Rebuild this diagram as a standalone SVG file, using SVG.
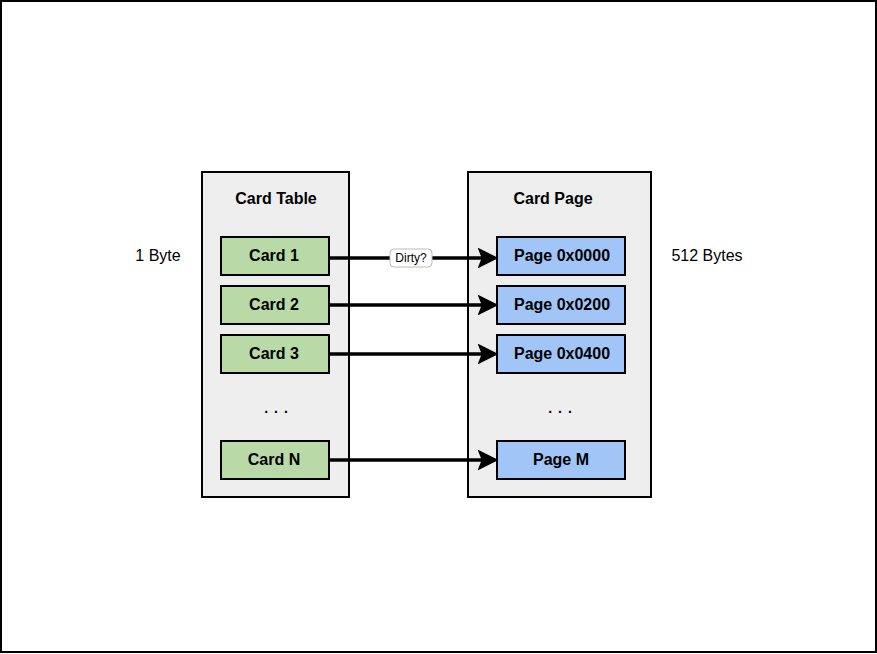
<svg xmlns="http://www.w3.org/2000/svg" width="877" height="654" viewBox="0 0 877 654">
<style>
.frame{fill:#ffffff;stroke:#000;stroke-width:2}
.cont{fill:#eeeeee;stroke:#000;stroke-width:2}
.card{fill:#b9d9a7;stroke:#000;stroke-width:2}
.page{fill:#a2c5f8;stroke:#000;stroke-width:2}
.t{font-family:"Liberation Sans",Arial,sans-serif;font-size:16px;fill:#000;text-anchor:middle;dominant-baseline:central}
.b{font-weight:bold}
.d{font-size:14px;font-weight:bold;letter-spacing:6px}
.conn{stroke:#000;stroke-width:3.5;fill:none;marker-end:url(#ah)}
.lbl{fill:#fff;stroke:#bbb;stroke-width:1}
.s{font-size:12px}
</style>
<defs>
<marker id="ah" markerWidth="6" markerHeight="6" refX="5" refY="3" orient="auto" markerUnits="strokeWidth">
<path d="M0,0 L6,3 L0,6 L1.2,3 Z" fill="#000"/>
</marker>
</defs>
<rect class="frame" x="1" y="1" width="875" height="651"/>
<g id="cardTable">
<rect class="cont" x="202" y="172" width="147" height="325"/>
<text class="t b" x="276" y="198">Card Table</text>
<text class="t d" x="279" y="408">...</text>
</g>
<g id="cardPage">
<rect class="cont" x="468" y="172" width="183" height="325"/>
<text class="t b" x="553" y="198">Card Page</text>
<text class="t d" x="563" y="408">...</text>
</g>
<g id="card1"><rect class="card" x="221" y="237" width="108" height="38"/><text class="t b" x="274" y="255">Card 1</text></g>
<g id="card2"><rect class="card" x="221" y="286" width="108" height="38"/><text class="t b" x="274" y="304">Card 2</text></g>
<g id="card3"><rect class="card" x="221" y="335" width="108" height="38"/><text class="t b" x="274" y="353">Card 3</text></g>
<g id="cardN"><rect class="card" x="221" y="441" width="108" height="38"/><text class="t b" x="274" y="459">Card N</text></g>
<g id="page0"><rect class="page" x="497" y="237" width="128" height="38"/><text class="t b" x="562" y="255">Page 0x0000</text></g>
<g id="page1"><rect class="page" x="497" y="286" width="128" height="38"/><text class="t b" x="562" y="304">Page 0x0200</text></g>
<g id="page2"><rect class="page" x="497" y="335" width="128" height="38"/><text class="t b" x="562" y="353">Page 0x0400</text></g>
<g id="pageM"><rect class="page" x="497" y="441" width="128" height="38"/><text class="t b" x="561" y="459">Page M</text></g>
<g id="oneByte"><text class="t" x="158" y="255">1 Byte</text></g>
<g id="bytes512"><text class="t" x="707" y="255">512 Bytes</text></g>
<g id="connectors">
<line class="conn" x1="329" y1="258" x2="495" y2="258"/>
<line class="conn" x1="329" y1="305" x2="495" y2="305"/>
<line class="conn" x1="329" y1="354" x2="495" y2="354"/>
<line class="conn" x1="329" y1="460" x2="495" y2="460"/>
<rect class="lbl" x="390" y="249" width="42" height="18" rx="4"/>
<text class="t s" x="411" y="258">Dirty?</text>
</g>
</svg>
